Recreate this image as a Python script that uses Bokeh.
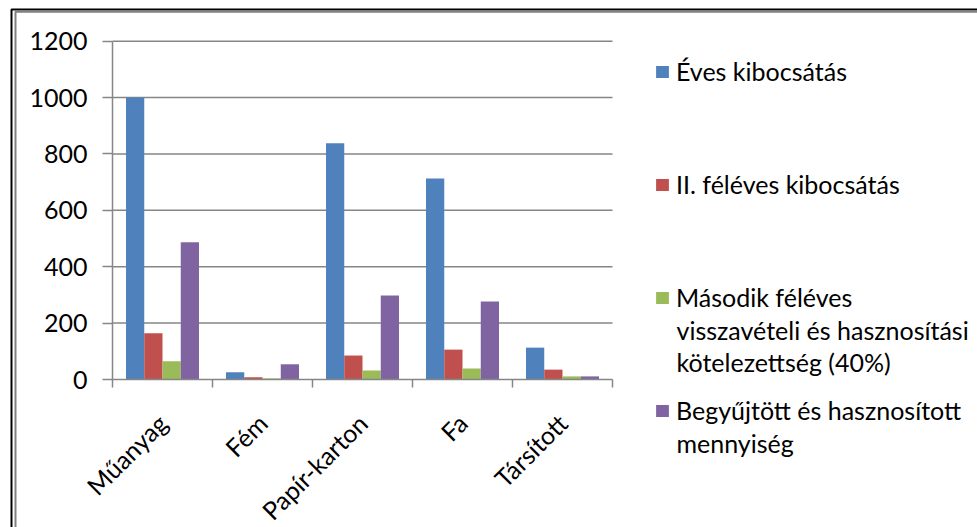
import numpy as np
from math import pi
from bokeh.plotting import figure
from bokeh.models import FixedTicker, Legend, LegendItem, Range1d, Label, BoxAnnotation
from bokeh.embed import file_html
from bokeh.resources import INLINE

categories = ["Műanyag", "Fém", "Papír-karton", "Fa", "Társított"]
eves_kibocsatas = [1000, 26, 838, 713, 113]
ii_feleves_kibocsatas = [164, 8, 85, 106, 35]
masodik_feleves_kotelezettseg = [65, 4, 32, 39, 11]
begyujtott_mennyiseg = [487, 54, 298, 277, 11]
series_names = [
    ["Éves kibocsátás"],
    ["II. féléves kibocsátás"],
    ["Második féléves", "visszavételi és hasznosítási", "kötelezettség (40%)"],
    ["Begyűjtött és hasznosított", "mennyiség"],
]
y_ticks = [0, 200, 400, 600, 800, 1000, 1200]

colors = ["#4F81BD", "#C0504D", "#9BBB59", "#8064A2"]
FONT = "Lato"
FS = "25px"
GRID = "#868686"

# ---- layout geometry (pixels) ----
W, H = 977, 527
PLOT_LEFT = 112              # pixel column of the value axis
Y0_PX, YTOP_PX = 379, 40.7   # pixel rows of 0 and of the top tick
CAT_PX = 100                 # width of one category
px_per_unit = (Y0_PX - YTOP_PX) / y_ticks[-1]

series = [eves_kibocsatas, ii_feleves_kibocsatas, masodik_feleves_kotelezettseg, begyujtott_mennyiseg]
n = len(categories)
centers = np.arange(n) + 0.5
bar_w = 0.1825

p = figure(width=W, height=H, output_backend="svg", toolbar_location=None,
           x_range=Range1d(-PLOT_LEFT / CAT_PX, (W - PLOT_LEFT) / CAT_PX),
           y_range=Range1d(-(H - Y0_PX) / px_per_unit, Y0_PX / px_per_unit),
           min_border_left=0, min_border_right=0, min_border_top=0, min_border_bottom=0)
p.outline_line_color = None
p.background_fill_color = "white"
p.border_fill_color = "white"
p.xgrid.visible = False
p.ygrid.visible = False

# horizontal gridlines over the category span
p.segment(x0=[0] * (len(y_ticks) - 1), x1=[n] * (len(y_ticks) - 1),
          y0=y_ticks[1:], y1=y_ticks[1:], line_color=GRID, line_width=1.5)

renderers = []
for j, vals in enumerate(series):
    r = p.vbar(x=centers + (j - 1.5) * bar_w, top=vals, width=bar_w,
               fill_color=colors[j], line_color=None)
    renderers.append(r)

yax = p.yaxis[0]
yax.fixed_location = 0
yax.ticker = FixedTicker(ticks=y_ticks)
yax.bounds = (y_ticks[0], y_ticks[-1])
yax.major_tick_out = 10
yax.major_tick_in = 0
yax.minor_tick_out = 0
yax.minor_tick_in = 0
yax.axis_line_color = GRID
yax.axis_line_width = 1.5
yax.major_tick_line_color = GRID
yax.major_tick_line_width = 1.5
yax.major_label_text_font = FONT
yax.major_label_text_font_size = FS
yax.major_label_text_color = "black"
yax.major_label_standoff = 15

xax = p.xaxis[0]
xax.fixed_location = 0
xax.bounds = (0, n)
xax.ticker = FixedTicker(ticks=list(centers), minor_ticks=list(np.arange(n + 1)))
xax.major_label_overrides = {float(c): name for c, name in zip(centers, categories)}
xax.major_tick_out = 0
xax.major_tick_in = 0
xax.minor_tick_out = 8
xax.minor_tick_in = 0
xax.minor_tick_line_color = GRID
xax.minor_tick_line_width = 1.5
xax.axis_line_color = GRID
xax.axis_line_width = 1.5
xax.major_label_orientation = pi / 4
xax.major_label_text_font = FONT
xax.major_label_text_font_size = FS
xax.major_label_text_color = "black"
xax.major_label_standoff = 31

# ---- legend ----
LEG_X = 654
FIRST_Y = [71, 184, 297, 410]
ITEM_H = 32
LINE_PITCH = 32
GLYPH_W, STANDOFF = 16, 6
leg_top = FIRST_Y[0] - ITEM_H / 2
spacing = int(round(FIRST_Y[1] - FIRST_Y[0] - ITEM_H))
leg_h = 4 * ITEM_H + 3 * spacing
legend = Legend(
    items=[LegendItem(label=lines[0], renderers=[r]) for lines, r in zip(series_names, renderers)],
    location=(LEG_X, int(round(H - leg_top - leg_h))),
    label_text_font=FONT, label_text_font_size=FS, label_text_color="black",
    glyph_width=GLYPH_W, glyph_height=15, label_standoff=STANDOFF,
    padding=0, margin=0, spacing=spacing, label_height=ITEM_H,
    border_line_color=None, background_fill_alpha=0,
)
p.add_layout(legend, "center")

for lines, y0 in zip(series_names, FIRST_Y):
    for k, txt in enumerate(lines[1:], start=1):
        p.add_layout(Label(x=LEG_X + GLYPH_W + STANDOFF, y=y0 + k * LINE_PITCH, text=txt,
                           x_units="canvas", y_units="canvas",
                           text_font=FONT, text_font_size=FS, text_color="black",
                           text_baseline="middle", text_align="left"))

# chart box frame lines (top and left edges of the embedded chart object)
for left, top, col in [(11, 9, "#000000"), (15, 11.2, "#808080")]:
    p.add_layout(BoxAnnotation(left=left, top=top, right=W + 20, bottom=H + 20,
                               left_units="canvas", right_units="canvas",
                               top_units="canvas", bottom_units="canvas",
                               fill_alpha=0, line_color=col, line_alpha=1.0,
                               line_width=2, level="overlay"))

open("out.html", "w").write(file_html(p, INLINE))
